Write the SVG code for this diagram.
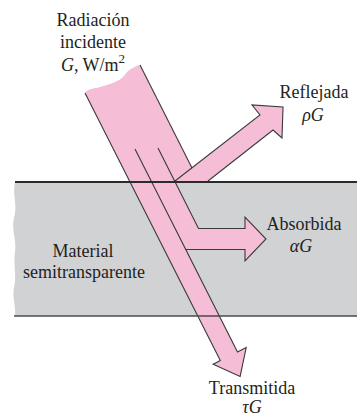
<svg xmlns="http://www.w3.org/2000/svg" width="357" height="418" viewBox="0 0 357 418">
<style>
.t{font-family:"Liberation Serif","Times New Roman",serif;font-size:18px;fill:#231f20;text-anchor:middle}
.i{font-style:italic}
.edge{fill:none;stroke:#3a3a3a;stroke-width:1.1;stroke-linejoin:miter}
</style>
<rect width="357" height="418" fill="#ffffff"/>
<g id="material">
<path d="M15,182 C12,195 18,205 14,218 C11,230 17,240 15,252 C13,265 17,275 14,288 C12,298 16,305 15,316 L357,316 L357,182 Z" fill="#d1d2d4"/>
</g>
<g id="beams">
<path id="pink" fill="#f5bdd6" d="M85,93 C88,88 94,89 100,87 C106,85 112,84 119,80 C124,77 125,74 128,71 C131,69 135,66 140,65 L192,168 L260,115 L252,105 L283,107 L282,138 L273,130 L208,181 L175,181 L198.5,228.5 L245,228.5 L245,217 L266,239 L245,261 L245,249.5 L186,249.5 L237.5,351.9 L246.2,347.5 L240.1,376.4 L213.2,364.2 L220.3,360.6 Z"/>
</g>
<g id="connectors">
<path class="edge" d="M140,65 L192,168"/>
<path class="edge" d="M175,181 L260,115 L252,105 L283,107 L282,138 L273,130 L208,181"/>
<path class="edge" d="M158,148 L198.5,228.5 L245,228.5 L245,217 L266,239 L245,261 L245,249.5 L186,249.5"/>
<path class="edge" d="M135,149 L237.5,351.9 L246.2,347.5 L240.1,376.4 L213.2,364.2 L220.3,360.6 L85,93"/>
</g>
<g id="surfaces">
<line x1="15" y1="182" x2="357" y2="182" stroke="#2b2b2b" stroke-width="2"/>
<line x1="14" y1="316" x2="357" y2="316" stroke="#4a4a4a" stroke-width="1.5"/>
</g>
<g id="label-incident">
<text class="t" x="93" y="26">Radiación</text>
<text class="t" x="93" y="48">incidente</text>
<text class="t" x="93" y="71"><tspan class="i">G</tspan>, W/m<tspan font-size="13" dy="-8">2</tspan></text>
</g>
<g id="label-reflected">
<text class="t" x="314" y="98">Reflejada</text>
<text class="t i" x="313" y="121">ρG</text>
</g>
<g id="label-absorbed">
<text class="t" x="304" y="230">Absorbida</text>
<text class="t i" x="301" y="252">αG</text>
</g>
<g id="label-material">
<text class="t" x="83" y="257">Material</text>
<text class="t" x="84" y="278">semitransparente</text>
</g>
<g id="label-transmitted">
<text class="t" x="252" y="394">Transmitida</text>
<text class="t i" x="252" y="413">τG</text>
</g>
</svg>
